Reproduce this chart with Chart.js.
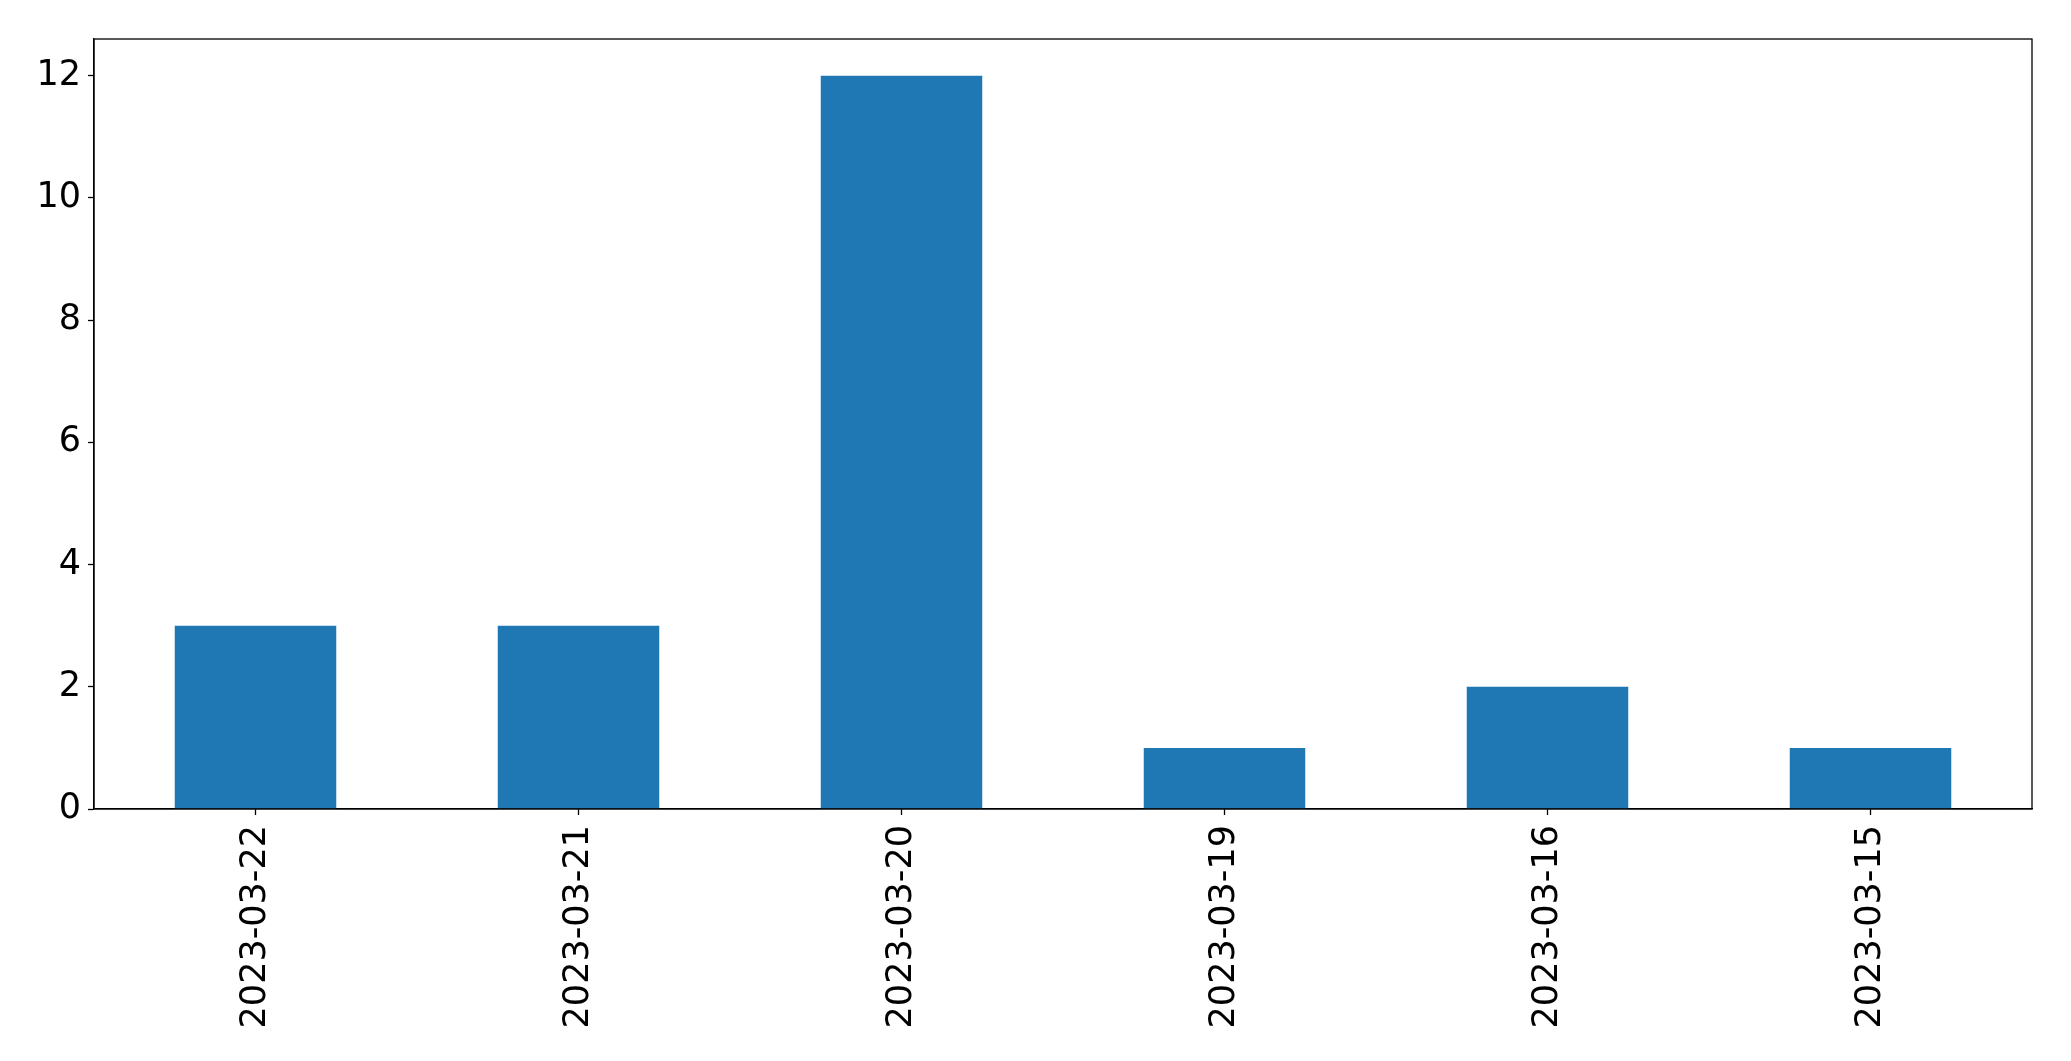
<!DOCTYPE html>
<html>
<head>
    <title>Bar chart</title>
    <script src="https://cdn.jsdelivr.net/npm/chart.js"></script>
    <style>
        body {
            margin: 0;
            background-color: #ffffff;
        }
        #wrap {
            width: 2071px;
            height: 1061px;
        }
    </style>
</head>
<body>
    <div id="wrap"><canvas id="chart"></canvas></div>
    <script>
        var dates = ['2023-03-22', '2023-03-21', '2023-03-20', '2023-03-19', '2023-03-16', '2023-03-15'];
        var counts = [3, 3, 12, 1, 2, 1];
        var yMax = 12.6;
        var yStep = 2;

        // draw the top and right edges of the frame, like matplotlib spines
        var frame = {
            id: 'frame',
            afterDraw: function(chart) {
                var a = chart.chartArea;
                var ctx = chart.ctx;
                ctx.save();
                ctx.strokeStyle = '#000000';
                ctx.lineWidth = 1.3;
                ctx.strokeRect(a.left, a.top, a.right - a.left, a.bottom - a.top);
                ctx.restore();
            }
        };

        Chart.defaults.font.family = '"DejaVu Sans", sans-serif';
        Chart.defaults.font.size = 35;
        Chart.defaults.color = '#000000';

        new Chart(document.getElementById('chart'), {
            type: 'bar',
            data: {
                labels: dates,
                datasets: [{
                    data: counts,
                    backgroundColor: '#1f77b4',
                    borderWidth: 0,
                    barPercentage: 0.5,
                    categoryPercentage: 1.0
                }]
            },
            options: {
                responsive: true,
                maintainAspectRatio: false,
                animation: false,
                layout: {
                    padding: { left: 0, top: 39, right: 39, bottom: 0 }
                },
                plugins: {
                    legend: { display: false },
                    tooltip: { enabled: false }
                },
                scales: {
                    x: {
                        offset: true,
                        afterFit: function(scale) { scale.height = 252; },
                        grid: {
                            offset: false,
                            drawOnChartArea: false,
                            drawTicks: true,
                            tickLength: 6,
                            tickColor: '#000000',
                            tickWidth: 1.3
                        },
                        border: { display: true, color: '#000000', width: 1.3 },
                        ticks: {
                            minRotation: 90,
                            maxRotation: 90,
                            autoSkip: false,
                            padding: 10
                        }
                    },
                    y: {
                        min: 0,
                        max: yMax,
                        afterFit: function(scale) { scale.width = 94; },
                        grid: {
                            drawOnChartArea: false,
                            drawTicks: true,
                            tickLength: 6,
                            tickColor: '#000000',
                            tickWidth: 1.3
                        },
                        border: { display: true, color: '#000000', width: 1.3 },
                        ticks: {
                            stepSize: yStep,
                            includeBounds: false,
                            padding: 7
                        }
                    }
                }
            },
            plugins: [frame]
        });
    </script>
</body>
</html>
